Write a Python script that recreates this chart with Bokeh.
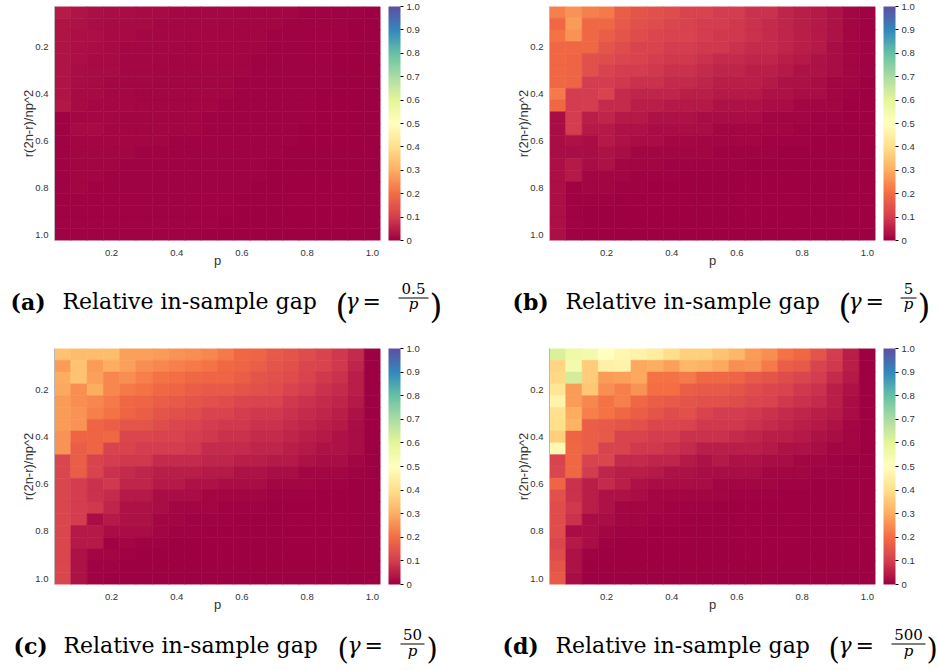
import numpy as np
from bokeh.plotting import figure
from bokeh.models import (ColumnDataSource, LinearColorMapper, ColorBar, FixedTicker, Range1d,
                          PrintfTickFormatter)
from bokeh.layouts import column, row
from bokeh.transform import transform
from bokeh.core.properties import value
from bokeh.embed import file_html
from bokeh.resources import INLINE

# ---------------- data ----------------
P_VALUES = [0.05, 0.10, 0.15, 0.20, 0.25, 0.30, 0.35, 0.40, 0.45, 0.50,
            0.55, 0.60, 0.65, 0.70, 0.75, 0.80, 0.85, 0.90, 0.95, 1.00]
R_VALUES = [0.05, 0.10, 0.15, 0.20, 0.25, 0.30, 0.35, 0.40, 0.45, 0.50,
            0.55, 0.60, 0.65, 0.70, 0.75, 0.80, 0.85, 0.90, 0.95, 1.00]
AXIS_TICKS = [0.2, 0.4, 0.6, 0.8, 1.0]
COLORBAR_TICKS = [0.0, 0.1, 0.2, 0.3, 0.4, 0.5, 0.6, 0.7, 0.8, 0.9, 1.0]
COLORBAR_LABELS = ["0", "0.1", "0.2", "0.3", "0.4", "0.5", "0.6", "0.7", "0.8", "0.9", "1.0"]

# rows: r(2n-r)/np^2 = 0.05 ... 1.00 ; columns: p = 0.05 ... 1.00
GAP_A = [
    [0.045, 0.032, 0.026, 0.022, 0.020, 0.018, 0.016, 0.015, 0.014, 0.013, 0.012, 0.011, 0.010, 0.009, 0.008, 0.007, 0.006, 0.005, 0.004, 0.003],
    [0.035, 0.028, 0.022, 0.019, 0.017, 0.016, 0.015, 0.014, 0.013, 0.012, 0.011, 0.010, 0.009, 0.008, 0.007, 0.006, 0.005, 0.004, 0.003, 0.002],
    [0.035, 0.026, 0.024, 0.018, 0.016, 0.015, 0.014, 0.013, 0.012, 0.011, 0.010, 0.009, 0.008, 0.007, 0.006, 0.005, 0.005, 0.004, 0.003, 0.002],
    [0.034, 0.025, 0.020, 0.017, 0.015, 0.014, 0.013, 0.012, 0.011, 0.010, 0.009, 0.008, 0.008, 0.007, 0.006, 0.005, 0.004, 0.003, 0.003, 0.002],
    [0.034, 0.024, 0.019, 0.016, 0.014, 0.013, 0.012, 0.011, 0.010, 0.010, 0.009, 0.008, 0.007, 0.006, 0.006, 0.005, 0.004, 0.003, 0.002, 0.002],
    [0.034, 0.023, 0.018, 0.016, 0.014, 0.012, 0.011, 0.010, 0.010, 0.009, 0.008, 0.008, 0.007, 0.006, 0.005, 0.005, 0.004, 0.003, 0.002, 0.002],
    [0.033, 0.020, 0.016, 0.014, 0.013, 0.012, 0.011, 0.010, 0.009, 0.009, 0.008, 0.007, 0.007, 0.006, 0.005, 0.004, 0.004, 0.003, 0.002, 0.001],
    [0.033, 0.018, 0.016, 0.014, 0.012, 0.011, 0.010, 0.010, 0.009, 0.008, 0.008, 0.007, 0.006, 0.006, 0.005, 0.004, 0.003, 0.003, 0.002, 0.001],
    [0.038, 0.016, 0.015, 0.013, 0.012, 0.011, 0.010, 0.009, 0.009, 0.008, 0.007, 0.007, 0.006, 0.005, 0.005, 0.004, 0.003, 0.002, 0.002, 0.001],
    [0.006, 0.014, 0.014, 0.012, 0.011, 0.010, 0.009, 0.009, 0.008, 0.007, 0.007, 0.006, 0.006, 0.005, 0.004, 0.004, 0.003, 0.002, 0.002, 0.001],
    [0.006, 0.018, 0.018, 0.011, 0.010, 0.009, 0.009, 0.008, 0.008, 0.007, 0.006, 0.006, 0.005, 0.005, 0.004, 0.003, 0.003, 0.002, 0.001, 0.001],
    [0.005, 0.010, 0.010, 0.009, 0.009, 0.008, 0.008, 0.007, 0.007, 0.006, 0.006, 0.005, 0.005, 0.004, 0.004, 0.003, 0.002, 0.002, 0.001, 0.001],
    [0.005, 0.009, 0.009, 0.008, 0.008, 0.007, 0.007, 0.006, 0.006, 0.006, 0.005, 0.005, 0.004, 0.004, 0.003, 0.003, 0.002, 0.002, 0.001, 0.001],
    [0.005, 0.009, 0.008, 0.008, 0.007, 0.007, 0.006, 0.006, 0.006, 0.005, 0.005, 0.004, 0.004, 0.003, 0.003, 0.002, 0.002, 0.001, 0.001, 0.001],
    [0.004, 0.008, 0.008, 0.007, 0.007, 0.006, 0.006, 0.006, 0.005, 0.005, 0.004, 0.004, 0.004, 0.003, 0.003, 0.002, 0.002, 0.001, 0.001, 0.001],
    [0.004, 0.008, 0.007, 0.007, 0.006, 0.006, 0.006, 0.005, 0.005, 0.005, 0.004, 0.004, 0.003, 0.003, 0.002, 0.002, 0.002, 0.001, 0.001, 0.000],
    [0.004, 0.007, 0.007, 0.006, 0.006, 0.006, 0.005, 0.005, 0.005, 0.004, 0.004, 0.003, 0.003, 0.003, 0.002, 0.002, 0.001, 0.001, 0.001, 0.000],
    [0.004, 0.007, 0.006, 0.006, 0.006, 0.005, 0.005, 0.005, 0.004, 0.004, 0.004, 0.003, 0.003, 0.002, 0.002, 0.002, 0.001, 0.001, 0.001, 0.000],
    [0.004, 0.006, 0.006, 0.006, 0.005, 0.005, 0.005, 0.004, 0.004, 0.004, 0.003, 0.003, 0.003, 0.002, 0.002, 0.001, 0.001, 0.001, 0.000, 0.000],
    [0.004, 0.006, 0.006, 0.005, 0.005, 0.005, 0.004, 0.004, 0.004, 0.003, 0.003, 0.003, 0.002, 0.002, 0.002, 0.001, 0.001, 0.001, 0.000, 0.000],
]

GAP_B = [
    [0.23, 0.26, 0.23, 0.22, 0.17, 0.15, 0.14, 0.13, 0.11, 0.11, 0.10, 0.10, 0.08, 0.08, 0.06, 0.05, 0.04, 0.03, 0.010, 0.005],
    [0.19, 0.27, 0.19, 0.19, 0.16, 0.14, 0.13, 0.12, 0.11, 0.10, 0.10, 0.09, 0.08, 0.07, 0.06, 0.05, 0.04, 0.03, 0.010, 0.005],
    [0.21, 0.26, 0.19, 0.17, 0.15, 0.13, 0.12, 0.11, 0.11, 0.10, 0.09, 0.09, 0.08, 0.07, 0.06, 0.05, 0.04, 0.03, 0.010, 0.005],
    [0.19, 0.19, 0.19, 0.15, 0.13, 0.11, 0.11, 0.10, 0.10, 0.09, 0.09, 0.08, 0.07, 0.07, 0.06, 0.05, 0.04, 0.02, 0.010, 0.005],
    [0.19, 0.18, 0.14, 0.13, 0.12, 0.11, 0.10, 0.09, 0.09, 0.08, 0.07, 0.07, 0.06, 0.06, 0.05, 0.04, 0.03, 0.02, 0.010, 0.005],
    [0.19, 0.18, 0.14, 0.11, 0.10, 0.10, 0.09, 0.08, 0.08, 0.07, 0.06, 0.06, 0.05, 0.05, 0.04, 0.03, 0.03, 0.02, 0.010, 0.005],
    [0.19, 0.18, 0.10, 0.10, 0.09, 0.08, 0.08, 0.07, 0.07, 0.06, 0.05, 0.05, 0.05, 0.04, 0.03, 0.03, 0.02, 0.01, 0.010, 0.000],
    [0.22, 0.10, 0.10, 0.11, 0.07, 0.06, 0.06, 0.06, 0.05, 0.05, 0.04, 0.04, 0.04, 0.03, 0.03, 0.02, 0.02, 0.01, 0.005, 0.000],
    [0.19, 0.10, 0.10, 0.07, 0.07, 0.05, 0.05, 0.04, 0.04, 0.04, 0.03, 0.03, 0.03, 0.02, 0.02, 0.01, 0.01, 0.01, 0.000, 0.000],
    [0.02, 0.10, 0.05, 0.06, 0.04, 0.04, 0.03, 0.03, 0.03, 0.02, 0.02, 0.02, 0.02, 0.01, 0.01, 0.01, 0.005, 0.005, 0.000, 0.000],
    [0.02, 0.10, 0.04, 0.04, 0.03, 0.03, 0.02, 0.02, 0.02, 0.02, 0.01, 0.01, 0.01, 0.01, 0.01, 0.005, 0.005, 0.0, 0.0, 0.0],
    [0.02, 0.03, 0.02, 0.04, 0.03, 0.02, 0.02, 0.015, 0.015, 0.01, 0.01, 0.01, 0.01, 0.005, 0.005, 0.005, 0.0, 0.0, 0.0, 0.0],
    [0.02, 0.02, 0.02, 0.03, 0.02, 0.01, 0.01, 0.01, 0.01, 0.01, 0.005, 0.005, 0.005, 0.005, 0.0, 0.0, 0.0, 0.0, 0.0, 0.0],
    [0.025, 0.04, 0.02, 0.03, 0.01, 0.01, 0.01, 0.005, 0.005, 0.005, 0.005, 0.005, 0.0, 0.0, 0.0, 0.0, 0.0, 0.0, 0.0, 0.0],
    [0.025, 0.04, 0.01, 0.01, 0.01, 0.005, 0.005, 0.005, 0.0, 0.0, 0.0, 0.0, 0.0, 0.0, 0.0, 0.0, 0.0, 0.0, 0.0, 0.0],
    [0.025, 0.005, 0.01, 0.01, 0.005, 0.005, 0.0, 0.0, 0.0, 0.0, 0.0, 0.0, 0.0, 0.0, 0.0, 0.0, 0.0, 0.0, 0.0, 0.0],
    [0.025, 0.005, 0.005, 0.005, 0.0, 0.0, 0.0, 0.0, 0.0, 0.0, 0.0, 0.0, 0.0, 0.0, 0.0, 0.0, 0.0, 0.0, 0.0, 0.0],
    [0.025, 0.005, 0.0, 0.0, 0.0, 0.0, 0.0, 0.0, 0.0, 0.0, 0.0, 0.0, 0.0, 0.0, 0.0, 0.0, 0.0, 0.0, 0.0, 0.0],
    [0.025, 0.005, 0.0, 0.0, 0.0, 0.0, 0.0, 0.0, 0.0, 0.0, 0.0, 0.0, 0.0, 0.0, 0.0, 0.0, 0.0, 0.0, 0.0, 0.0],
    [0.025, 0.005, 0.0, 0.0, 0.0, 0.0, 0.0, 0.0, 0.0, 0.0, 0.0, 0.0, 0.0, 0.0, 0.0, 0.0, 0.0, 0.0, 0.0, 0.0],
]

GAP_C = [
    [0.34, 0.33, 0.33, 0.33, 0.28, 0.28, 0.27, 0.26, 0.25, 0.24, 0.22, 0.19, 0.18, 0.16, 0.15, 0.13, 0.11, 0.09, 0.07, 0.0],
    [0.27, 0.34, 0.27, 0.30, 0.28, 0.25, 0.24, 0.23, 0.22, 0.21, 0.19, 0.18, 0.17, 0.15, 0.14, 0.12, 0.11, 0.09, 0.06, 0.0],
    [0.30, 0.34, 0.28, 0.24, 0.25, 0.23, 0.21, 0.20, 0.19, 0.18, 0.18, 0.17, 0.15, 0.14, 0.13, 0.11, 0.09, 0.08, 0.05, 0.0],
    [0.29, 0.25, 0.30, 0.24, 0.22, 0.21, 0.19, 0.18, 0.17, 0.16, 0.16, 0.15, 0.14, 0.13, 0.11, 0.10, 0.08, 0.07, 0.05, 0.0],
    [0.27, 0.25, 0.24, 0.22, 0.19, 0.18, 0.17, 0.16, 0.15, 0.14, 0.13, 0.12, 0.11, 0.11, 0.09, 0.08, 0.07, 0.06, 0.04, 0.0],
    [0.27, 0.26, 0.23, 0.21, 0.18, 0.17, 0.15, 0.14, 0.13, 0.11, 0.11, 0.10, 0.09, 0.09, 0.08, 0.07, 0.06, 0.05, 0.03, 0.0],
    [0.27, 0.26, 0.18, 0.17, 0.15, 0.15, 0.13, 0.12, 0.11, 0.10, 0.09, 0.09, 0.08, 0.08, 0.07, 0.06, 0.05, 0.04, 0.02, 0.0],
    [0.26, 0.18, 0.18, 0.19, 0.12, 0.12, 0.11, 0.11, 0.10, 0.09, 0.08, 0.08, 0.07, 0.07, 0.06, 0.05, 0.04, 0.03, 0.02, 0.0],
    [0.26, 0.17, 0.18, 0.11, 0.11, 0.10, 0.10, 0.10, 0.09, 0.07, 0.07, 0.07, 0.06, 0.06, 0.05, 0.04, 0.03, 0.03, 0.02, 0.0],
    [0.12, 0.17, 0.11, 0.10, 0.09, 0.09, 0.07, 0.07, 0.07, 0.06, 0.06, 0.05, 0.05, 0.04, 0.04, 0.03, 0.02, 0.02, 0.01, 0.0],
    [0.12, 0.17, 0.11, 0.08, 0.07, 0.06, 0.05, 0.05, 0.05, 0.04, 0.04, 0.03, 0.03, 0.02, 0.02, 0.01, 0.01, 0.01, 0.005, 0.0],
    [0.12, 0.10, 0.08, 0.09, 0.06, 0.06, 0.04, 0.04, 0.03, 0.03, 0.02, 0.02, 0.02, 0.01, 0.01, 0.01, 0.005, 0.005, 0.0, 0.0],
    [0.12, 0.10, 0.08, 0.07, 0.04, 0.04, 0.02, 0.02, 0.02, 0.01, 0.01, 0.01, 0.01, 0.005, 0.005, 0.005, 0.0, 0.0, 0.0, 0.0],
    [0.12, 0.10, 0.09, 0.06, 0.03, 0.03, 0.02, 0.01, 0.01, 0.01, 0.005, 0.005, 0.005, 0.0, 0.0, 0.0, 0.0, 0.0, 0.0, 0.0],
    [0.12, 0.10, 0.02, 0.04, 0.03, 0.03, 0.01, 0.01, 0.005, 0.005, 0.005, 0.0, 0.0, 0.0, 0.0, 0.0, 0.0, 0.0, 0.0, 0.0],
    [0.12, 0.04, 0.04, 0.02, 0.02, 0.02, 0.01, 0.005, 0.005, 0.0, 0.0, 0.0, 0.0, 0.0, 0.0, 0.0, 0.0, 0.0, 0.0, 0.0],
    [0.12, 0.04, 0.04, 0.005, 0.01, 0.005, 0.005, 0.0, 0.0, 0.0, 0.0, 0.0, 0.0, 0.0, 0.0, 0.0, 0.0, 0.0, 0.0, 0.0],
    [0.12, 0.03, 0.01, 0.01, 0.005, 0.0, 0.0, 0.0, 0.0, 0.0, 0.0, 0.0, 0.0, 0.0, 0.0, 0.0, 0.0, 0.0, 0.0, 0.0],
    [0.12, 0.03, 0.005, 0.005, 0.0, 0.0, 0.0, 0.0, 0.0, 0.0, 0.0, 0.0, 0.0, 0.0, 0.0, 0.0, 0.0, 0.0, 0.0, 0.0],
    [0.12, 0.03, 0.005, 0.0, 0.0, 0.0, 0.0, 0.0, 0.0, 0.0, 0.0, 0.0, 0.0, 0.0, 0.0, 0.0, 0.0, 0.0, 0.0, 0.0],
]

GAP_D = [
    [0.62, 0.56, 0.55, 0.50, 0.47, 0.46, 0.44, 0.40, 0.37, 0.37, 0.34, 0.32, 0.27, 0.25, 0.21, 0.19, 0.15, 0.10, 0.05, 0.0],
    [0.38, 0.55, 0.36, 0.45, 0.46, 0.29, 0.30, 0.28, 0.32, 0.31, 0.29, 0.25, 0.26, 0.22, 0.17, 0.16, 0.11, 0.09, 0.05, 0.0],
    [0.39, 0.63, 0.36, 0.27, 0.28, 0.29, 0.21, 0.21, 0.22, 0.19, 0.19, 0.18, 0.16, 0.15, 0.13, 0.12, 0.10, 0.07, 0.04, 0.0],
    [0.42, 0.27, 0.35, 0.25, 0.23, 0.26, 0.20, 0.20, 0.17, 0.16, 0.16, 0.15, 0.13, 0.12, 0.11, 0.09, 0.08, 0.05, 0.03, 0.0],
    [0.46, 0.27, 0.24, 0.21, 0.23, 0.19, 0.17, 0.16, 0.15, 0.14, 0.14, 0.13, 0.12, 0.11, 0.09, 0.08, 0.07, 0.05, 0.02, 0.0],
    [0.41, 0.30, 0.23, 0.21, 0.19, 0.17, 0.15, 0.13, 0.14, 0.11, 0.10, 0.10, 0.09, 0.08, 0.07, 0.06, 0.05, 0.04, 0.02, 0.0],
    [0.40, 0.31, 0.17, 0.16, 0.15, 0.14, 0.12, 0.12, 0.11, 0.09, 0.09, 0.09, 0.08, 0.07, 0.06, 0.05, 0.04, 0.03, 0.01, 0.0],
    [0.37, 0.18, 0.17, 0.16, 0.11, 0.11, 0.10, 0.10, 0.08, 0.08, 0.08, 0.07, 0.06, 0.05, 0.05, 0.04, 0.03, 0.02, 0.01, 0.0],
    [0.48, 0.19, 0.17, 0.11, 0.11, 0.09, 0.09, 0.08, 0.07, 0.05, 0.05, 0.05, 0.05, 0.04, 0.03, 0.03, 0.02, 0.01, 0.01, 0.0],
    [0.11, 0.19, 0.11, 0.12, 0.07, 0.07, 0.06, 0.06, 0.04, 0.03, 0.04, 0.03, 0.03, 0.02, 0.02, 0.01, 0.01, 0.005, 0.0, 0.0],
    [0.12, 0.19, 0.10, 0.06, 0.05, 0.05, 0.04, 0.03, 0.03, 0.02, 0.02, 0.02, 0.02, 0.01, 0.01, 0.01, 0.005, 0.005, 0.0, 0.0],
    [0.18, 0.08, 0.05, 0.07, 0.05, 0.03, 0.02, 0.02, 0.02, 0.02, 0.01, 0.01, 0.01, 0.01, 0.005, 0.005, 0.0, 0.0, 0.0, 0.0],
    [0.14, 0.08, 0.05, 0.03, 0.03, 0.02, 0.01, 0.01, 0.01, 0.01, 0.01, 0.005, 0.005, 0.005, 0.0, 0.0, 0.0, 0.0, 0.0, 0.0],
    [0.13, 0.09, 0.05, 0.03, 0.01, 0.01, 0.01, 0.005, 0.005, 0.005, 0.0, 0.0, 0.0, 0.0, 0.0, 0.0, 0.0, 0.0, 0.0, 0.0],
    [0.13, 0.08, 0.02, 0.02, 0.01, 0.01, 0.005, 0.005, 0.0, 0.0, 0.0, 0.0, 0.0, 0.0, 0.0, 0.0, 0.0, 0.0, 0.0, 0.0],
    [0.13, 0.02, 0.02, 0.01, 0.005, 0.005, 0.0, 0.0, 0.0, 0.0, 0.0, 0.0, 0.0, 0.0, 0.0, 0.0, 0.0, 0.0, 0.0, 0.0],
    [0.12, 0.04, 0.02, 0.005, 0.0, 0.0, 0.0, 0.0, 0.0, 0.0, 0.0, 0.0, 0.0, 0.0, 0.0, 0.0, 0.0, 0.0, 0.0, 0.0],
    [0.13, 0.03, 0.005, 0.0, 0.0, 0.0, 0.0, 0.0, 0.0, 0.0, 0.0, 0.0, 0.0, 0.0, 0.0, 0.0, 0.0, 0.0, 0.0, 0.0],
    [0.15, 0.03, 0.0, 0.0, 0.0, 0.0, 0.0, 0.0, 0.0, 0.0, 0.0, 0.0, 0.0, 0.0, 0.0, 0.0, 0.0, 0.0, 0.0, 0.0],
    [0.16, 0.02, 0.0, 0.0, 0.0, 0.0, 0.0, 0.0, 0.0, 0.0, 0.0, 0.0, 0.0, 0.0, 0.0, 0.0, 0.0, 0.0, 0.0, 0.0],
]

PANEL_TAGS = ["(a)", "(b)", "(c)", "(d)"]
CAPTION_TEXT = "Relative in-sample gap"
GAMMA_NUMERATORS = ["0.5", "5", "50", "500"]
X_LABEL = "p"
Y_LABEL = "r(2n-r)/np^2"

# ---------------- style ----------------
SPECTRAL = ["#9e0142", "#d53e4f", "#f46d43", "#fdae61", "#fee08b", "#ffffbf",
            "#e6f598", "#abdda4", "#66c2a5", "#3288bd", "#5e4fa2"]


def interp_palette(colors, n):
    rgb = np.array([[int(c[i:i + 2], 16) for i in (1, 3, 5)] for c in colors], float)
    pos = np.linspace(0, 1, len(colors))
    out = []
    for t in np.linspace(0, 1, n):
        r, g, b = (int(round(np.interp(t, pos, rgb[:, k]))) for k in range(3))
        out.append("#%02x%02x%02x" % (r, g, b))
    return out


PALETTE = interp_palette(SPECTRAL, 256)
SANS = "Liberation Sans"
SERIF = "DejaVu Serif"
TICK_COLOR = "#333333"
FIG_W = 469


def heatmap(gap, left, right, top, frame_h, bottom):
    src = ColumnDataSource(dict(
        p=[P_VALUES[j] for i in range(len(R_VALUES)) for j in range(len(P_VALUES))],
        r=[R_VALUES[i] for i in range(len(R_VALUES)) for j in range(len(P_VALUES))],
        gap=[gap[i][j] for i in range(len(R_VALUES)) for j in range(len(P_VALUES))],
    ))
    mapper = LinearColorMapper(palette=PALETTE, low=0, high=1)
    f = figure(width=FIG_W, height=top + frame_h + bottom,
               x_range=Range1d(0.025, 1.025), y_range=Range1d(1.025, 0.025),
               output_backend="svg", toolbar_location=None,
               min_border_left=left, min_border_right=right,
               min_border_top=top, min_border_bottom=bottom)
    f.rect(x="p", y="r", width=0.05, height=0.05, source=src,
           fill_color=transform("gap", mapper), line_color=transform("gap", mapper),
           line_width=0.6)
    f.grid.visible = False
    f.outline_line_color = None
    for ax in (f.xaxis[0], f.yaxis[0]):
        ax.ticker = FixedTicker(ticks=AXIS_TICKS)
        ax.formatter = PrintfTickFormatter(format="%.1f")
        ax.major_tick_line_color = None
        ax.minor_tick_line_color = None
        ax.major_label_text_font = SANS
        ax.major_label_text_font_size = "9.5px"
        ax.major_label_text_color = TICK_COLOR
        ax.axis_label_text_font = SANS
        ax.axis_label_text_font_size = "13px"
        ax.axis_label_text_font_style = "normal"
        ax.axis_label_text_color = TICK_COLOR
    f.xaxis.axis_line_color = None
    f.yaxis.axis_line_color = "#b8b8b8"
    f.xaxis.axis_label = X_LABEL
    f.yaxis.axis_label = Y_LABEL
    f.xaxis.major_label_standoff = 3
    f.xaxis.axis_label_standoff = -6
    f.yaxis.major_label_standoff = 0
    f.yaxis.axis_label_standoff = -4
    cb = ColorBar(color_mapper=mapper, ticker=FixedTicker(ticks=COLORBAR_TICKS),
                  major_label_overrides=dict(zip(COLORBAR_TICKS, COLORBAR_LABELS)),
                  width=12, height=frame_h, padding=0, margin=0, location=(8, 0),
                  major_tick_in=0, major_tick_out=3, major_tick_line_color="black",
                  minor_tick_line_color=None, bar_line_color=None,
                  major_label_text_font=SANS, major_label_text_font_size="9.5px",
                  major_label_text_color=TICK_COLOR, label_standoff=3,
                  background_fill_alpha=0)
    f.add_layout(cb, "right")
    return f


def caption(x0, y0, h, tag, num, tag_x, main_x, paren_x, frac_cx, bar_half, close_x,
            base, num_base, bar_y, den_base, paren_base, paren_size):
    c = figure(width=FIG_W, height=h, x_range=Range1d(x0, x0 + FIG_W),
               y_range=Range1d(y0 + h, y0), x_axis_type=None, y_axis_type=None,
               min_border=0, output_backend="svg", toolbar_location=None)
    c.outline_line_color = None
    c.grid.visible = False
    c.text(x=[tag_x], y=[base], text=[tag], text_font=value(SERIF), text_font_style="bold",
           text_font_size="22px", text_baseline="alphabetic", text_color="black")
    c.text(x=[main_x], y=[base], text=[CAPTION_TEXT], text_font=value(SERIF),
           text_font_size="22px", text_baseline="alphabetic", text_color="black")
    c.text(x=[paren_x, close_x], y=[paren_base, paren_base], text=["(", ")"],
           text_font=value(SERIF), text_font_size=paren_size, text_baseline="alphabetic",
           text_color="black")
    c.text(x=[paren_x + 10], y=[base], text=["\u03b3"], text_font=value(SERIF),
           text_font_style="italic", text_font_size="22px", text_baseline="alphabetic",
           text_color="black")
    c.text(x=[paren_x + 27], y=[base], text=["="], text_font=value(SERIF),
           text_font_size="22px", text_baseline="alphabetic", text_color="black")
    c.text(x=[frac_cx], y=[num_base], text=[num], text_font=value(SERIF),
           text_font_size="15px", text_baseline="alphabetic", text_align="center",
           text_color="black")
    c.text(x=[frac_cx], y=[den_base], text=["p"], text_font=value(SERIF),
           text_font_style="italic", text_font_size="15px", text_baseline="alphabetic",
           text_align="center", text_color="black")
    c.segment(x0=[frac_cx - bar_half], y0=[bar_y], x1=[frac_cx + bar_half], y1=[bar_y],
              line_color="black", line_width=1)
    return c


TOP1, TOP2, BOTTOM = 6, 13, 32
FRAME_H1, FRAME_H2 = 234, 236
H1 = TOP1 + FRAME_H1 + BOTTOM
H2 = TOP2 + FRAME_H2 + BOTTOM
fa = heatmap(GAP_A, 54, 89, TOP1, FRAME_H1, BOTTOM)
fb = heatmap(GAP_B, 80, 63, TOP1, FRAME_H1, BOTTOM)
fc = heatmap(GAP_C, 54, 89, TOP2, FRAME_H2, BOTTOM)
fd = heatmap(GAP_D, 80, 63, TOP2, FRAME_H2, BOTTOM)

CH1 = 335 - H1
CH2 = 670 - 335 - H2
ca = caption(0, H1, CH1, PANEL_TAGS[0], GAMMA_NUMERATORS[0], 10, 62, 335, 413, 15, 429,
             301, 288, 297.5, 303.5, 306, "33px")
cb_ = caption(469, H1, CH1, PANEL_TAGS[1], GAMMA_NUMERATORS[1], 512, 565, 838, 908, 8, 917,
              301, 288, 297.5, 303.5, 306, "33px")
cc = caption(0, 335 + H2, CH2, PANEL_TAGS[2], GAMMA_NUMERATORS[2], 13, 63, 337, 412, 12, 426,
             645, 634, 643.5, 650, 648, "29px")
cd = caption(469, 335 + H2, CH2, PANEL_TAGS[3], GAMMA_NUMERATORS[3], 502, 555, 828, 908, 17, 926,
             645, 634, 643.5, 650, 648, "29px")

layout = column(row(fa, fb), row(ca, cb_), row(fc, fd), row(cc, cd))
open("out.html", "w").write(file_html(layout, INLINE))
